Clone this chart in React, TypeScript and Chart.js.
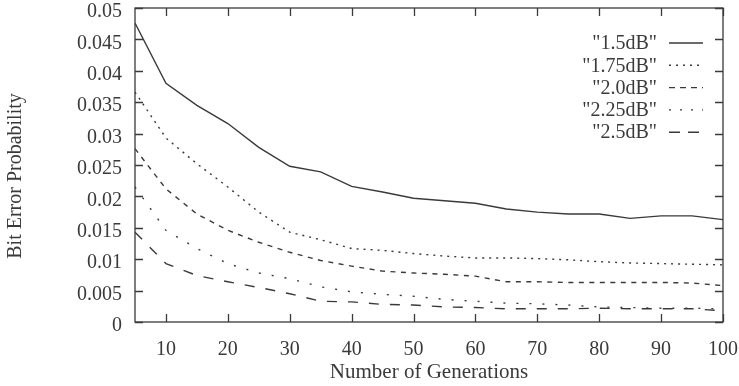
import React, { useEffect, useRef } from "react";
import { Chart, registerables } from "chart.js";

Chart.register(...registerables);

// Number of generations at which the bit error probability was sampled
const generations = [5, 10, 15, 20, 25, 30, 35, 40, 45, 50, 55, 60, 65, 70, 75, 80, 85, 90, 95, 100];

// Bit error probability per Eb/N0 setting
const ber15 = [0.0476, 0.038, 0.0345, 0.0316, 0.0278, 0.0248, 0.0239, 0.0216, 0.0207, 0.0197, 0.0193, 0.0189, 0.018, 0.0175, 0.0172, 0.0172, 0.0165, 0.0169, 0.0169, 0.0163];
const ber175 = [0.0366, 0.0293, 0.0252, 0.0215, 0.0175, 0.0143, 0.0131, 0.0117, 0.0114, 0.0109, 0.0105, 0.0102, 0.0102, 0.0101, 0.0099, 0.0096, 0.0094, 0.0093, 0.0092, 0.0091];
const ber20 = [0.0276, 0.0212, 0.0172, 0.0146, 0.0127, 0.0111, 0.0098, 0.0089, 0.0081, 0.0078, 0.0076, 0.0073, 0.0064, 0.0064, 0.0063, 0.0063, 0.0063, 0.0063, 0.0062, 0.0058];
const ber225 = [0.0215, 0.0146, 0.0117, 0.0093, 0.0078, 0.0069, 0.0056, 0.0048, 0.0044, 0.0041, 0.0036, 0.0033, 0.003, 0.0029, 0.0027, 0.0024, 0.0023, 0.0022, 0.0022, 0.0021];
const ber25 = [0.0143, 0.0093, 0.0074, 0.0064, 0.0055, 0.0045, 0.0033, 0.0032, 0.0028, 0.0027, 0.0024, 0.0023, 0.0021, 0.0021, 0.0021, 0.0022, 0.0021, 0.0021, 0.0021, 0.0018];

const seriesLabels = ['"1.5dB"', '"1.75dB"', '"2.0dB"', '"2.25dB"', '"2.5dB"'];

const xTicks = [10, 20, 30, 40, 50, 60, 70, 80, 90, 100];
const yTicks = [0, 0.005, 0.01, 0.015, 0.02, 0.025, 0.03, 0.035, 0.04, 0.045, 0.05];
const yTickLabels = ["0", "0.005", "0.01", "0.015", "0.02", "0.025", "0.03", "0.035", "0.04", "0.045", "0.05"];

const INK = "#3a3a3a";
const FONT = '"Liberation Serif", "Times New Roman", serif';

const dashes: number[][] = [[], [2, 5], [5, 5.5], [2, 11], [10, 11]];
const legendDashes: number[][] = [[], [2, 5], [6, 5], [2, 9], [11, 8]];

const framePlugin = {
  id: "gnuplotFrame",
  afterDraw(chart: any) {
    const { ctx, chartArea: a, scales } = chart;
    const xs = scales.x;
    const ys = scales.y;
    ctx.save();
    ctx.strokeStyle = INK;
    ctx.lineWidth = 1.3;
    ctx.setLineDash([]);
    ctx.strokeRect(a.left, a.top, a.right - a.left, a.bottom - a.top);

    // inward tick marks on all four sides
    const len = 8;
    ctx.beginPath();
    xs.ticks.forEach((t: any) => {
      const px = Math.round(xs.getPixelForValue(t.value)) + 0.5;
      ctx.moveTo(px, a.bottom);
      ctx.lineTo(px, a.bottom - len);
      ctx.moveTo(px, a.top);
      ctx.lineTo(px, a.top + len);
    });
    ys.ticks.forEach((t: any) => {
      const py = Math.round(ys.getPixelForValue(t.value)) + 0.5;
      ctx.moveTo(a.left, py);
      ctx.lineTo(a.left + len, py);
      ctx.moveTo(a.right, py);
      ctx.lineTo(a.right - len, py);
    });
    ctx.stroke();

    // key in the upper right corner
    ctx.font = `20px ${FONT}`;
    ctx.fillStyle = INK;
    ctx.textAlign = "right";
    ctx.textBaseline = "middle";
    chart.data.datasets.forEach((ds: any, i: number) => {
      const y = a.top + 35 + i * 22.3;
      ctx.fillText(ds.label, a.right - 66, y + 1);
      ctx.beginPath();
      ctx.setLineDash(legendDashes[i]);
      ctx.lineWidth = 1.4;
      ctx.moveTo(a.right - 54, y);
      ctx.lineTo(a.right - 20, y);
      ctx.stroke();
    });
    ctx.setLineDash([]);

    // vertical axis title
    ctx.font = `20px ${FONT}`;
    ctx.textAlign = "center";
    ctx.textBaseline = "middle";
    ctx.translate(16, (a.top + a.bottom) / 2 + 11);
    ctx.rotate(-Math.PI / 2);
    ctx.fillText("Bit Error Probability", 0, 0);
    ctx.restore();
  },
};

export default function App() {
  const canvasRef = useRef<HTMLCanvasElement | null>(null);

  useEffect(() => {
    document.body.style.margin = "0";
    const canvas = canvasRef.current;
    if (!canvas) return;
    const series = [ber15, ber175, ber20, ber225, ber25];
    const chart = new Chart(canvas, {
      type: "line",
      data: {
        datasets: series.map((vals, i) => ({
          label: seriesLabels[i],
          data: generations.map((g, j) => ({ x: g, y: vals[j] })),
          borderColor: INK,
          borderWidth: 1.4,
          borderDash: dashes[i],
          pointRadius: 0,
          tension: 0,
          fill: false,
        })),
      },
      options: {
        responsive: false,
        animation: false,
        layout: { padding: { top: 8, right: 16, left: 0, bottom: 0 } },
        plugins: {
          legend: { display: false },
          tooltip: { enabled: false },
        },
        scales: {
          x: {
            type: "linear",
            min: 5,
            max: 100,
            afterBuildTicks: (scale: any) => {
              scale.ticks = xTicks.map((v) => ({ value: v }));
            },
            afterFit: (scale: any) => {
              scale.height = 64;
              scale.paddingLeft = 0;
              scale.paddingRight = 0;
            },
            grid: { display: false, drawTicks: false },
            border: { display: false },
            ticks: {
              color: INK,
              font: { family: FONT, size: 20 },
              padding: 16,
              maxRotation: 0,
              autoSkip: false,
              callback: (v: any) => String(v),
            },
            title: {
              display: true,
              text: "Number of Generations",
              color: INK,
              font: { family: FONT, size: 21 },
              padding: { top: 0, bottom: 1 },
            },
          },
          y: {
            type: "linear",
            min: 0,
            max: 0.05,
            afterBuildTicks: (scale: any) => {
              scale.ticks = yTicks.map((v) => ({ value: v }));
            },
            afterFit: (scale: any) => {
              scale.width = 135;
              scale.paddingTop = 0;
              scale.paddingBottom = 0;
            },
            grid: { display: false, drawTicks: false },
            border: { display: false },
            ticks: {
              color: INK,
              font: { family: FONT, size: 20 },
              padding: 13,
              labelOffset: 4,
              autoSkip: false,
              callback: (_v: any, i: number) => yTickLabels[i],
            },
          },
        },
      },
      plugins: [framePlugin],
    });
    return () => chart.destroy();
  }, []);

  return (
    <div style={{ width: 739, height: 386, background: "#fff" }}>
      <canvas ref={canvasRef} width={739} height={386} style={{ display: "block" }} />
    </div>
  );
}
